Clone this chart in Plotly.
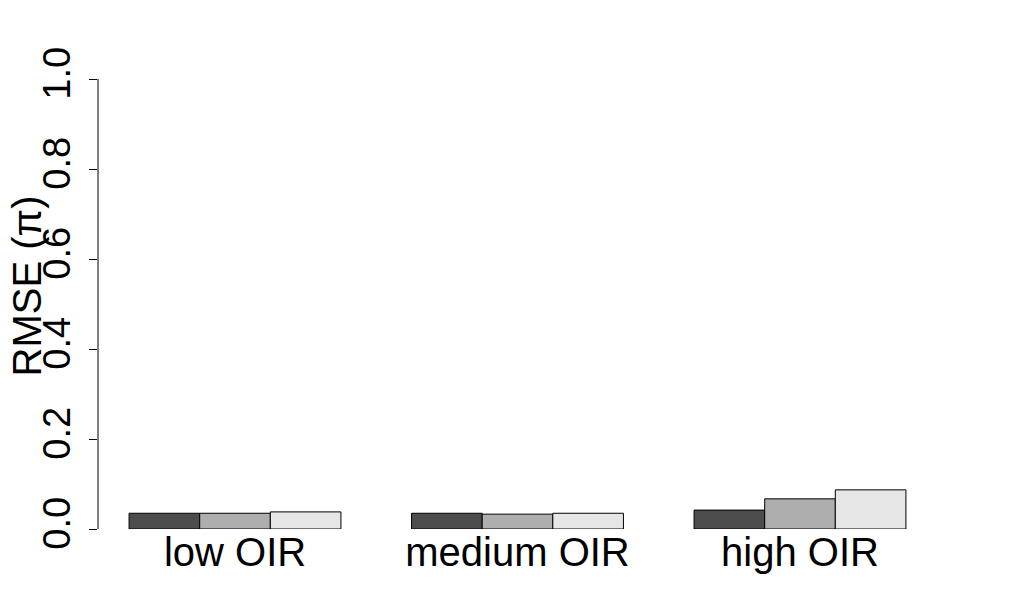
import plotly.graph_objects as go

categories = ["low OIR", "medium OIR", "high OIR"]
series1 = [0.035, 0.035, 0.042]
series2 = [0.035, 0.033, 0.067]
series3 = [0.038, 0.035, 0.087]
colors = ["#4D4D4D", "#AEAEAE", "#E6E6E6"]
y_ticks = [0.0, 0.2, 0.4, 0.6, 0.8, 1.0]
y_ticklabels = ["0.0", "0.2", "0.4", "0.6", "0.8", "1.0"]

group_starts = [1, 5, 9]
fig = go.Figure()
for k, vals in enumerate([series1, series2, series3]):
    xs = [g + k + 0.5 for g in group_starts]
    fig.add_trace(go.Bar(x=xs, y=vals, width=1.0, marker=dict(color=colors[k], line=dict(color="black", width=1)), showlegend=False))

centers = [g + 1.5 for g in group_starts]
font = "Liberation Sans, Arial, sans-serif"
fig.update_layout(
    width=1016, height=608,
    margin=dict(l=90, r=87, t=53, b=87, autoexpand=False),
    plot_bgcolor="white", paper_bgcolor="white",
    barmode="overlay",
    font=dict(family=font, color="black"),
    xaxis=dict(range=[0.56, 12.44], tickvals=centers, ticktext=categories, showline=False, automargin=False,
               showgrid=False, zeroline=False, ticks="", tickfont=dict(size=40), ticklabelstandoff=-4),
    yaxis=dict(range=[0, 1.04], tickvals=y_ticks, ticktext=y_ticklabels, showline=False, showgrid=False,
               zeroline=False, ticks="outside", ticklen=8, tickwidth=1, tickcolor="black", automargin=False,
               tickangle=-90, tickfont=dict(size=38), ticklabelstandoff=4),
    shapes=[dict(type="line", xref="paper", yref="y", x0=0, x1=0, y0=0, y1=1, line=dict(color="black", width=1))],
    annotations=[dict(text="RMSE (π)", xref="paper", yref="paper", x=-0.0896, y=0.52, xanchor="center",
                      yanchor="middle", textangle=-90, showarrow=False, font=dict(size=40), xshift=4)],
)
fig.write_html("out.html")
